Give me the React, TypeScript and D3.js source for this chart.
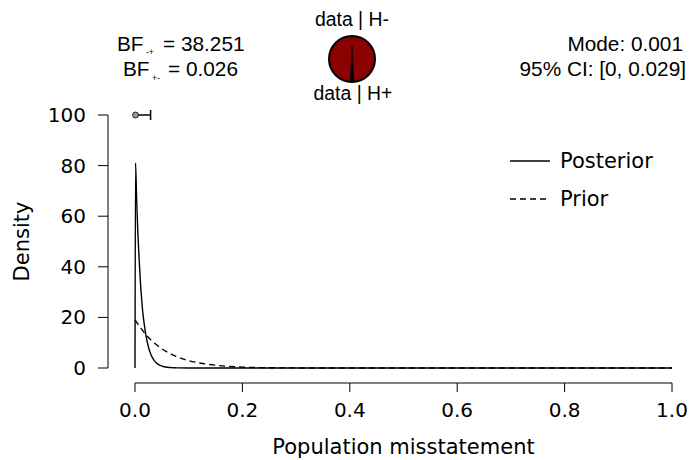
import React from "react";
import * as d3 from "d3";

const priorX = [0, 0.01, 0.02, 0.03, 0.04, 0.05, 0.06, 0.07, 0.08, 0.1, 0.12, 0.15, 0.2, 0.25, 0.3, 0.4, 0.6, 0.8, 1.0];
const priorY = [19, 16, 13.3, 11, 9.2, 7.6, 6.3, 5.2, 4.3, 2.9, 2.0, 1.1, 0.35, 0.1, 0.03, 0, 0, 0, 0];

const postX = [0, 0.001, 0.003, 0.005, 0.0075, 0.01, 0.0125, 0.015, 0.0175, 0.02, 0.025, 0.03, 0.035, 0.04, 0.045, 0.05, 0.06, 0.07, 0.08, 0.1, 0.2, 0.4, 0.6, 0.8, 1.0];
const postY = [0, 81, 67, 55, 44, 34.3, 27, 21, 16.9, 13.3, 8.3, 5.1, 3.2, 2.0, 1.2, 0.77, 0.3, 0.12, 0.04, 0, 0, 0, 0, 0, 0];

const xTicks = [0, 0.2, 0.4, 0.6, 0.8, 1.0];
const yTicks = [0, 20, 40, 60, 80, 100];

const bfMinusPlus = "38.251";
const bfPlusMinus = "0.026";
const modeText = "Mode: 0.001";
const ciText = "95% CI: [0, 0.029]";
const pointEstimate = [0.001];
const ciBounds = [0, 0.029];
const ciHeight = [100];
const legendLabels = ["Posterior", "Prior"];

export default function App() {
  const x = d3.scaleLinear().domain([0, 1]).range([135, 672]);
  const y = d3.scaleLinear().domain([0, 100]).range([368, 115]);

  const line = d3
    .line<[number, number]>()
    .x((d) => x(d[0]))
    .y((d) => y(d[1]))
    .curve(d3.curveMonotoneX);

  const priorPath = line(priorX.map((v, i) => [v, priorY[i]]) as [number, number][]) || "";
  const postPath = line(postX.map((v, i) => [v, postY[i]]) as [number, number][]) || "";

  // pie
  const cx = 352;
  const cy = 59;
  const r = 23;
  const bf = parseFloat(bfMinusPlus);
  const pH = 1 / (1 + bf);
  const half = (pH * Math.PI * 2) / 2;
  const bx1 = cx + r * Math.sin(-half);
  const by1 = cy + r * Math.cos(-half);
  const bx2 = cx + r * Math.sin(half);
  const by2 = cy + r * Math.cos(half);
  const needle = `M${cx},${cy - 13} L${bx1},${by1} A${r},${r} 0 0 0 ${bx2},${by2} Z`;

  const hFont = "'Liberation Sans', Arial, sans-serif";
  const aFont = "'DejaVu Sans', sans-serif";

  const ciY = y(ciHeight[0]);

  return (
    <svg width={691} height={460} style={{ display: "block", position: "absolute", left: 0, top: 0 }}>
      <rect width={691} height={460} fill="white" />
      {/* header BF */}
      <g fontFamily={hFont} fill="black">
        <text x={117} y={51} fontSize={20.8}>
          BF
          <tspan x={146} y={55} fontSize={8.5}>-+</tspan>
          <tspan x={163} y={51}>= {bfMinusPlus}</tspan>
        </text>
        <text x={123} y={76} fontSize={20.8}>
          BF
          <tspan x={152} y={81} fontSize={8.5}>+-</tspan>
          <tspan x={168} y={76}>= {bfPlusMinus}</tspan>
        </text>
        <text x={683} y={51} fontSize={20.8} textAnchor="end">{modeText}</text>
        <text x={686} y={76} fontSize={20.8} textAnchor="end">{ciText}</text>
        <text x={352} y={26} fontSize={19.4} textAnchor="middle">data | H-</text>
        <text x={353} y={100} fontSize={19.4} textAnchor="middle">data | H+</text>
      </g>
      {/* pie */}
      <circle cx={cx} cy={cy} r={r} fill="#8B0000" stroke="black" strokeWidth={2} />
      <path d={needle} fill="black" stroke="black" strokeWidth={0.6} />

      {/* y axis */}
      <g fontFamily={aFont} fontSize={20} fill="black">
        <line x1={108} x2={108} y1={y(0)} y2={y(100)} stroke="black" strokeWidth={1} />
        {yTicks.map((t) => (
          <g key={t}>
            <line x1={98} x2={108} y1={y(t)} y2={y(t)} stroke="black" strokeWidth={1} />
            <text x={86} y={y(t) + 7} textAnchor="end">{t}</text>
          </g>
        ))}
        <text transform={`translate(29,${y(50)}) rotate(-90)`} textAnchor="middle" fontSize={21}>Density</text>
      </g>

      {/* x axis */}
      <g fontFamily={aFont} fontSize={20} fill="black">
        <line x1={x(0)} x2={x(1)} y1={383} y2={383} stroke="black" strokeWidth={1} />
        {xTicks.map((t) => (
          <g key={t}>
            <line x1={x(t)} x2={x(t)} y1={383} y2={392} stroke="black" strokeWidth={1} />
            <text x={x(t)} y={417} textAnchor="middle">{t.toFixed(1)}</text>
          </g>
        ))}
        <text x={x(0.5)} y={454} textAnchor="middle" fontSize={21}>Population misstatement</text>
      </g>

      {/* curves */}
      <path d={priorPath} fill="none" stroke="black" strokeWidth={1.4} strokeDasharray="6,4" />
      <path d={postPath} fill="none" stroke="black" strokeWidth={1.4} />

      {/* CI */}
      <line x1={x(ciBounds[0])} x2={x(ciBounds[1])} y1={ciY} y2={ciY} stroke="black" strokeWidth={1.5} />
      <line x1={x(ciBounds[1])} x2={x(ciBounds[1])} y1={ciY - 5} y2={ciY + 5} stroke="black" strokeWidth={1.5} />
      <circle cx={x(pointEstimate[0])} cy={ciY} r={3} fill="#999" stroke="black" strokeWidth={0.8} />

      {/* legend */}
      <g fontFamily={aFont} fontSize={21} fill="black">
        <line x1={510} x2={550} y1={161} y2={161} stroke="black" strokeWidth={1.4} />
        <text x={560} y={168}>{legendLabels[0]}</text>
        <line x1={510} x2={550} y1={199} y2={199} stroke="black" strokeWidth={1.4} strokeDasharray="6,4" />
        <text x={560} y={206}>{legendLabels[1]}</text>
      </g>
    </svg>
  );
}
